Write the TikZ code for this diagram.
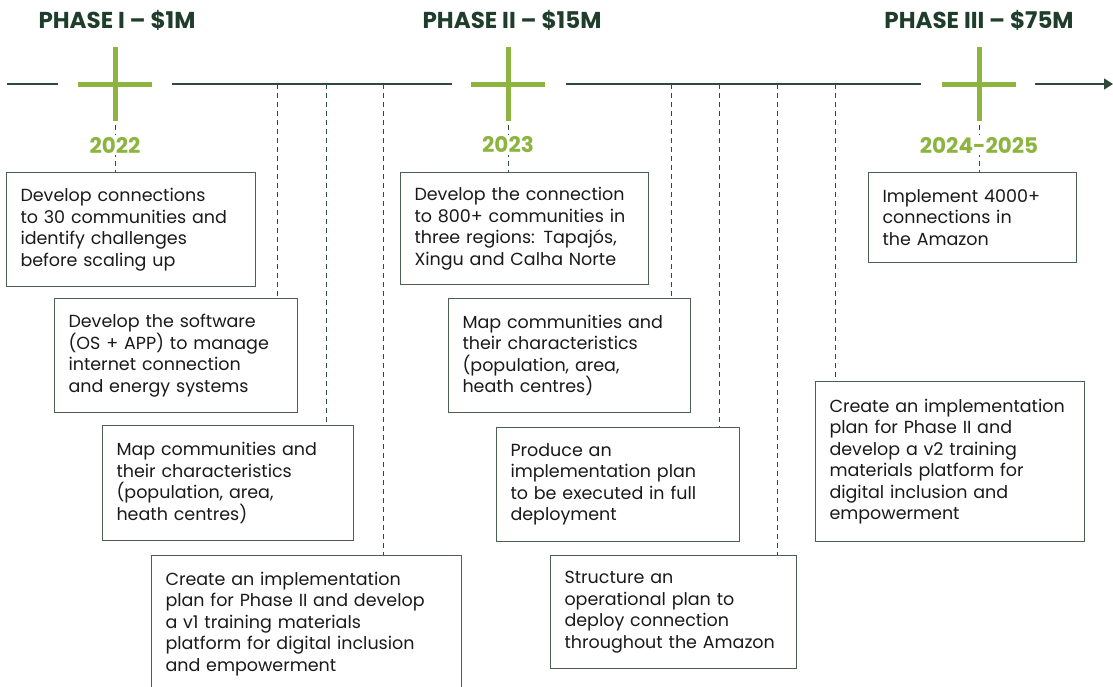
\documentclass[tikz,border=0pt]{standalone}
\usepackage{fontspec}
\setmainfont{Poppins}
\usetikzlibrary{arrows.meta}
\hyphenpenalty=10000
\exhyphenpenalty=10000
\definecolor{phasegreen}{HTML}{1E3D2A}
\definecolor{crossgreen}{HTML}{8CB43F}
\definecolor{axisgreen}{HTML}{2F4A3A}
\definecolor{boxgreen}{HTML}{4B5F52}
\definecolor{boxtext}{HTML}{1A1A1A}
\tikzset{
  phase/.style={text=phasegreen, font=\fontsize{23}{26}\selectfont\bfseries},
  year/.style={text=crossgreen, font=\fontsize{21.5}{24}\selectfont\bfseries, fill=white, inner sep=2pt},
  cross/.style={draw=crossgreen, line width=5pt},
  axis/.style={draw=axisgreen, line width=1.3pt},
  link/.style={draw=axisgreen, line width=0.9pt, dash pattern=on 5pt off 4pt},
  stagebox/.style={draw=boxgreen, line width=1pt, fill=white, anchor=north west,
    inner xsep=14pt, align=left, text=boxtext,
    font=\fontsize{17.5}{21.5}\selectfont},
}
\begin{document}
\begin{tikzpicture}[x=1pt,y=-1pt]
  \useasboundingbox (0,0) rectangle (1113,686);

  % timeline
  \draw[axis] (7,84) -- (58,84);
  \draw[axis] (172,84) -- (452,84);
  \draw[axis] (566,84) -- (921,84);
  \coordinate (tend) at (1113,84);
  \draw[axis,-{Triangle[length=9pt,width=11pt]}] (1035,84) -- (tend);

  % phases
  \node[phase] (ph1) at (117,20) {PHASE I – \$1M};
  \node[phase] (ph2) at (512,20) {PHASE II – \$15M};
  \node[phase] (ph3) at (979,20) {PHASE III – \$75M};

  \foreach \cx/\nm in {115/c1, 508/c2, 979/c3}{
    \draw[cross] (\cx-37,84) -- (\cx+37,84);
    \draw[cross] (\cx,47) -- (\cx,121);
    \coordinate (\nm) at (\cx,125);
  }

  % boxes, phase I
  \node[stagebox, minimum width=249, minimum height=114, text width=221pt] (b1) at (6,172)
    {Develop connections\\to 30 communities and\\identify challenges\\before scaling up};
  \node[stagebox, minimum width=243, minimum height=114, text width=215pt] (b2) at (54,298)
    {Develop the software\\(OS + APP) to manage\\internet connection\\and energy systems};
  \node[stagebox, minimum width=251, minimum height=115, text width=223pt] (b3) at (102,425)
    {Map communities and\\their characteristics\\(population, area,\\heath centres)};
  \node[stagebox, minimum width=310, minimum height=137, text width=282pt] (b4) at (151,555)
    {Create an implementation\\plan for Phase II and develop\\a v1 training materials\\platform for digital inclusion\\and empowerment};

  % boxes, phase II
  \node[stagebox, minimum width=248, minimum height=112, text width=220pt] (b5) at (400,172)
    {Develop the connection\\to 800+ communities in\\three regions: Tapajós,\\Xingu and Calha Norte};
  \node[stagebox, minimum width=242, minimum height=114, text width=214pt] (b6) at (448,298)
    {Map communities and\\their characteristics\\(population, area,\\heath centres)};
  \node[stagebox, minimum width=243, minimum height=114, text width=215pt] (b7) at (496,427)
    {Produce an\\implementation plan\\to be executed in full\\deployment};
  \node[stagebox, minimum width=246, minimum height=113, text width=218pt] (b8) at (550,555)
    {Structure an\\operational plan to\\deploy connection\\throughout the Amazon};

  % boxes, phase III
  \node[stagebox, minimum width=208, minimum height=90, text width=180pt] (b9) at (868,172)
    {Implement 4000+\\connections in\\the Amazon};
  \node[stagebox, minimum width=269, minimum height=160, text width=241pt] (b10) at (815,381)
    {Create an implementation\\plan for Phase II and\\develop a v2 training\\materials platform for\\digital inclusion and\\empowerment};

  % connectors
  \draw[link] (c1) -- (c1 |- b1.north);
  \draw[link] (c2) -- (c2 |- b5.north);
  \draw[link] (c3) -- (c3 |- b9.north);
  \foreach \tx/\bx in {277/b2, 326/b3, 383/b4, 671/b6, 719/b7, 777/b8, 835/b10}{
    \coordinate (t\bx) at (\tx,84);
    \draw[link] (t\bx) -- (t\bx |- \bx.north);
  }

  % years
  \node[year] (y1) at (115,145) {2022};
  \node[year] (y2) at (508,145) {2023};
  \node[year] (y3) at (979,145) {2024-2025};
\end{tikzpicture}
\end{document}
